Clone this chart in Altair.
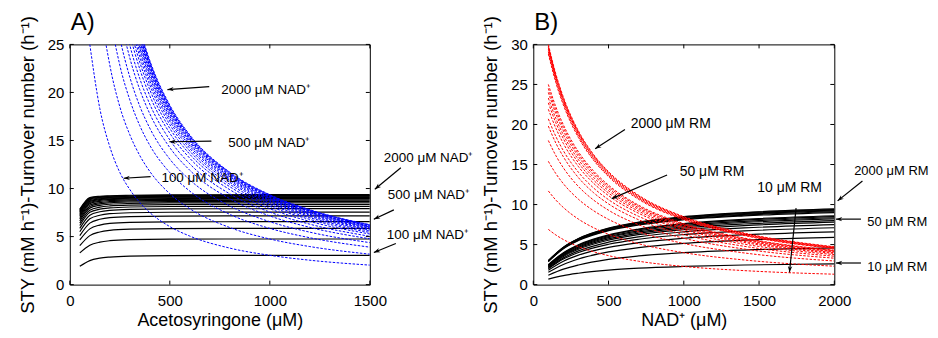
import math
import altair as alt
import pandas as pd

FONT = "Liberation Sans"

# ---------------- Panel A: STY / turnover vs acetosyringone ----------------
nad_levels_A = [100, 200, 300, 400, 500, 600, 700, 800, 900, 1000,
                1100, 1200, 1300, 1400, 1500, 1600, 1700, 1800, 1900, 2000]
x_sty_A = [50, 100, 150, 200, 300, 500, 1000, 1500]
sty_A = [
    [1.90, 2.50, 2.75, 2.87, 2.97, 3.02, 3.05, 3.05],
    [3.30, 4.10, 4.42, 4.57, 4.68, 4.73, 4.75, 4.75],
    [4.05, 5.10, 5.48, 5.65, 5.77, 5.83, 5.85, 5.85],
    [4.65, 5.80, 6.20, 6.37, 6.48, 6.53, 6.55, 6.55],
    [5.10, 6.40, 6.80, 6.98, 7.08, 7.13, 7.15, 7.15],
    [5.50, 6.85, 7.22, 7.38, 7.48, 7.53, 7.55, 7.55],
    [5.85, 7.22, 7.58, 7.73, 7.83, 7.88, 7.90, 7.90],
    [6.15, 7.52, 7.85, 7.98, 8.08, 8.13, 8.15, 8.15],
    [6.40, 7.75, 8.06, 8.19, 8.28, 8.33, 8.35, 8.35],
    [6.62, 7.96, 8.25, 8.37, 8.45, 8.50, 8.52, 8.52],
    [6.82, 8.14, 8.41, 8.52, 8.60, 8.64, 8.66, 8.66],
    [6.98, 8.29, 8.54, 8.64, 8.72, 8.76, 8.78, 8.78],
    [7.13, 8.43, 8.66, 8.76, 8.83, 8.87, 8.89, 8.89],
    [7.26, 8.55, 8.76, 8.85, 8.92, 8.96, 8.98, 8.98],
    [7.38, 8.66, 8.85, 8.93, 9.00, 9.04, 9.06, 9.06],
    [7.49, 8.75, 8.93, 9.01, 9.07, 9.11, 9.13, 9.13],
    [7.59, 8.84, 9.01, 9.08, 9.14, 9.18, 9.20, 9.20],
    [7.68, 8.92, 9.08, 9.14, 9.20, 9.24, 9.26, 9.26],
    [7.77, 8.99, 9.14, 9.20, 9.25, 9.29, 9.31, 9.31],
    [7.85, 9.06, 9.20, 9.25, 9.30, 9.34, 9.36, 9.36],
]
x_ton_A = [100, 150, 200, 250, 300, 350, 400, 500, 600, 800, 1000, 1200, 1500]
ton_A = [
    [25.0, 18.33, 14.35, 11.68, 9.90, 8.54, 7.50, 6.04, 5.05, 3.80, 3.05, 2.54, 2.03],
    [41.0, 29.47, 22.85, 18.52, 15.60, 13.43, 11.78, 9.46, 7.90, 5.94, 4.75, 3.96, 3.17],
    [51.0, 36.53, 28.25, 22.84, 19.23, 16.54, 14.50, 11.66, 9.73, 7.31, 5.85, 4.88, 3.90],
    [58.0, 41.33, 31.85, 25.72, 21.60, 18.57, 16.28, 13.06, 10.90, 8.19, 6.55, 5.46, 4.37],
    [64.0, 45.33, 34.90, 28.12, 23.60, 20.29, 17.78, 14.26, 11.90, 8.94, 7.15, 5.96, 4.77],
    [68.5, 48.13, 36.90, 29.72, 24.93, 21.43, 18.78, 15.06, 12.57, 9.44, 7.55, 6.29, 5.03],
    [72.2, 50.53, 38.65, 31.12, 26.10, 22.43, 19.65, 15.76, 13.15, 9.88, 7.90, 6.58, 5.27],
    [75.2, 52.33, 39.90, 32.12, 26.93, 23.14, 20.28, 16.26, 13.57, 10.19, 8.15, 6.79, 5.43],
    [77.5, 53.73, 40.95, 32.96, 27.60, 23.71, 20.78, 16.66, 13.90, 10.44, 8.35, 6.96, 5.57],
    [79.6, 55.00, 41.85, 33.64, 28.17, 24.20, 21.20, 17.00, 14.18, 10.65, 8.52, 7.10, 5.68],
    [81.4, 56.07, 42.60, 34.24, 28.67, 24.63, 21.58, 17.28, 14.42, 10.83, 8.66, 7.22, 5.77],
    [82.9, 56.93, 43.20, 34.72, 29.07, 24.97, 21.88, 17.52, 14.62, 10.98, 8.78, 7.32, 5.85],
    [84.3, 57.73, 43.80, 35.20, 29.43, 25.29, 22.15, 17.74, 14.80, 11.11, 8.89, 7.41, 5.93],
    [85.5, 58.40, 44.25, 35.56, 29.73, 25.54, 22.38, 17.92, 14.95, 11.23, 8.98, 7.48, 5.99],
    [86.6, 59.00, 44.65, 35.88, 30.00, 25.77, 22.58, 18.08, 15.08, 11.33, 9.06, 7.55, 6.04],
    [87.5, 59.53, 45.05, 36.16, 30.23, 25.97, 22.75, 18.22, 15.20, 11.41, 9.13, 7.61, 6.09],
    [88.4, 60.07, 45.40, 36.44, 30.47, 26.17, 22.93, 18.36, 15.32, 11.50, 9.20, 7.67, 6.13],
    [89.2, 60.53, 45.70, 36.68, 30.67, 26.34, 23.08, 18.48, 15.42, 11.58, 9.26, 7.72, 6.17],
    [89.9, 60.93, 46.00, 36.88, 30.83, 26.49, 23.20, 18.58, 15.50, 11.64, 9.31, 7.76, 6.21],
    [90.6, 61.33, 46.25, 37.08, 31.00, 26.63, 23.33, 18.68, 15.58, 11.70, 9.36, 7.80, 6.24],
]
ticks_x_A = [0, 500, 1000, 1500]
ticks_y_A = [0, 5, 10, 15, 20, 25]

ann_text_A = ["2000 μM NAD⁺", "500 μM NAD⁺", "100 μM NAD⁺",
              "2000 μM NAD⁺", "500 μM NAD⁺", "100 μM NAD⁺"]
ann_size_A = [13.5, 13.5, 13.5, 13.5, 13.5, 13.5]
ann_tx_A = [757, 792, 458, 1570, 1590, 1585]
ann_ty_A = [20.3, 14.7, 11.1, 13.2, 9.33, 5.19]
arr_x0_A = [697, 708, 404, 1655, 1620, 1630]
arr_y0_A = [20.6, 14.94, 11.24, 12.17, 7.78, 4.28]
arr_x1_A = [488, 498, 269, 1525, 1520, 1520]
arr_y1_A = [20.3, 14.87, 11.07, 9.92, 6.81, 3.35]

# ---------------- Panel B: STY / turnover vs NAD+ ----------------
x_sty_B = [100, 200, 300, 500, 700, 1000, 1400, 2000]
sty_B = [
    [0.69, 1.13, 1.42, 1.81, 2.05, 2.27, 2.45, 2.60],
    [1.17, 1.93, 2.45, 3.15, 3.58, 3.99, 4.32, 4.60],
    [1.54, 2.52, 3.20, 4.08, 4.62, 5.14, 5.55, 5.90],
    [1.80, 2.92, 3.68, 4.65, 5.24, 5.79, 6.23, 6.60],
    [1.98, 3.19, 4.01, 5.04, 5.67, 6.25, 6.71, 7.10],
    [2.07, 3.34, 4.21, 5.30, 5.97, 6.59, 7.08, 7.50],
    [2.19, 3.52, 4.42, 5.55, 6.24, 6.87, 7.37, 7.80],
    [2.27, 3.64, 4.56, 5.72, 6.42, 7.06, 7.57, 8.00],
    [2.33, 3.74, 4.68, 5.87, 6.58, 7.24, 7.76, 8.20],
    [2.40, 3.84, 4.80, 6.00, 6.72, 7.39, 7.91, 8.35],
    [2.45, 3.92, 4.90, 6.12, 6.85, 7.52, 8.05, 8.50],
    [2.50, 3.99, 4.98, 6.21, 6.94, 7.62, 8.15, 8.60],
    [2.88, 4.49, 5.51, 6.74, 7.45, 8.10, 8.59, 9.00],
    [2.91, 4.53, 5.57, 6.81, 7.53, 8.19, 8.69, 9.10],
    [2.94, 4.58, 5.63, 6.89, 7.62, 8.27, 8.78, 9.20],
    [2.96, 4.62, 5.68, 6.95, 7.69, 8.36, 8.87, 9.30],
    [2.98, 4.65, 5.72, 7.01, 7.75, 8.43, 8.95, 9.38],
    [3.00, 4.68, 5.76, 7.06, 7.81, 8.49, 9.01, 9.45],
]
x_ton_B = [100, 150, 200, 300, 400, 500, 700, 1000, 1400, 2000]
ton_B = [
    [6.9, 6.20, 5.63, 4.75, 4.11, 3.62, 2.92, 2.27, 1.75, 1.30],
    [11.7, 10.56, 9.63, 8.18, 7.11, 6.29, 5.11, 3.99, 3.08, 2.30],
    [15.4, 13.86, 12.60, 10.66, 9.24, 8.15, 6.60, 5.14, 3.96, 2.95],
    [18.0, 16.11, 14.58, 12.25, 10.57, 9.29, 7.48, 5.79, 4.45, 3.30],
    [19.8, 17.67, 15.96, 13.36, 11.49, 10.08, 8.10, 6.25, 4.79, 3.55],
    [20.7, 18.50, 16.72, 14.03, 12.08, 10.61, 8.53, 6.59, 5.06, 3.75],
    [21.9, 19.53, 17.62, 14.74, 12.67, 11.11, 8.91, 6.87, 5.27, 3.90],
    [22.7, 20.21, 18.22, 15.21, 13.06, 11.44, 9.17, 7.06, 5.41, 4.00],
    [23.3, 20.74, 18.70, 15.61, 13.40, 11.73, 9.40, 7.24, 5.54, 4.10],
    [24.0, 21.33, 19.20, 16.00, 13.72, 12.00, 9.60, 7.39, 5.65, 4.18],
    [24.5, 21.77, 19.59, 16.32, 13.98, 12.23, 9.78, 7.52, 5.75, 4.25],
    [25.0, 22.19, 19.95, 16.59, 14.20, 12.42, 9.92, 7.62, 5.82, 4.30],
    [28.8, 25.22, 22.43, 18.36, 15.55, 13.48, 10.65, 8.10, 6.14, 4.50],
    [29.1, 25.48, 22.67, 18.56, 15.71, 13.63, 10.76, 8.19, 6.20, 4.55],
    [29.4, 25.75, 22.90, 18.76, 15.88, 13.77, 10.88, 8.27, 6.27, 4.60],
    [29.6, 25.94, 23.08, 18.92, 16.02, 13.90, 10.99, 8.36, 6.34, 4.65],
    [29.8, 26.12, 23.25, 19.06, 16.15, 14.01, 11.08, 8.43, 6.39, 4.69],
    [30.0, 26.30, 23.41, 19.19, 16.26, 14.11, 11.16, 8.49, 6.44, 4.73],
]
ticks_x_B = [0, 500, 1000, 1500, 2000]
ticks_y_B = [0, 5, 10, 15, 20, 25, 30]

ann_text_B = ["2000 μM RM", "50 μM RM", "10 μM RM",
              "2000 μM RM", "50 μM RM", "10 μM RM"]
ann_size_B = [14, 14, 14, 13, 13, 13]
ann_tx_B = [647, 973, 1488, 2132, 2219, 2219]
ann_ty_B = [20.08, 14.07, 12.03, 14.19, 7.88, 2.24]
arr_x0_B = [609, 889, 1746, 2187, 2177, 2177]
arr_y0_B = [19.38, 13.7, 9.55, 12.95, 8.18, 2.70]
arr_x1_B = [411, 521, 1702, 2022, 2011, 2011]
arr_y1_B = [16.97, 10.74, 1.53, 10.46, 8.18, 2.70]

Y_TITLE = "STY (mM h⁻¹)-Turnover number (h⁻¹)"
W_A, W_B, H = 301, 302, 241
ARROW_PATH = "M0,0L0.75,2.1L0,1.45L-0.75,2.1Z"


def long_df(xs, rows):
    recs = []
    for i, row in enumerate(rows):
        for x, y in zip(xs, row):
            recs.append({"curve": i, "x": x, "y": y})
    return pd.DataFrame(recs)


def panel(sty_x, sty, ton_x, ton, color, xdom, ydom, xticks, yticks, xtitle,
          width, label, ann_text, ann_size, ann_tx, ann_ty, ax0, ay0, ax1, ay1):
    xs = alt.Scale(domain=xdom, nice=False, zero=False)
    ys = alt.Scale(domain=ydom, nice=False, zero=False)
    common = dict(ticks=False, domain=False, grid=False, labelFont=FONT,
                  labelFontSize=15, labelColor="black", titleFont=FONT,
                  titleFontWeight="normal", titleColor="black",
                  labelFlush=False, labelOverlap=False, format="d")
    xax = alt.Axis(values=xticks, title=xtitle, labelPadding=9, titlePadding=3,
                   titleFontSize=18, **common)
    yax = alt.Axis(values=yticks, title=Y_TITLE, labelPadding=6, titlePadding=10,
                   titleFontSize=18.5, **common)

    def X(f):
        return alt.X(f, type="quantitative", scale=xs, axis=xax)

    def Y(f):
        return alt.Y(f, type="quantitative", scale=ys, axis=yax)

    black = alt.Chart(long_df(sty_x, sty)).mark_line(
        color="black", strokeWidth=1.2, clip=True, interpolate="monotone"
    ).encode(x=X("x"), y=Y("y"), detail="curve:N")

    dashed = alt.Chart(long_df(ton_x, ton)).mark_line(
        color=color, strokeWidth=1.0, strokeDash=[2.5, 1.5], clip=True,
        interpolate="monotone"
    ).encode(x=X("x"), y=Y("y"), detail="curve:N")

    tx = pd.DataFrame({"t": xticks})
    ty = pd.DataFrame({"t": yticks})
    tick_bot = alt.Chart(tx).mark_rule(color="black", strokeWidth=1).encode(
        x=X("t"), y=alt.value(H), y2=alt.value(H - 4))
    tick_top = alt.Chart(tx).mark_rule(color="black", strokeWidth=1).encode(
        x=X("t"), y=alt.value(0), y2=alt.value(4))
    tick_left = alt.Chart(ty).mark_rule(color="black", strokeWidth=1).encode(
        y=Y("t"), x=alt.value(0), x2=alt.value(4))
    tick_right = alt.Chart(ty).mark_rule(color="black", strokeWidth=1).encode(
        y=Y("t"), x=alt.value(width), x2=alt.value(width - 4))

    # arrow head angles (screen space)
    sx = width / (xdom[1] - xdom[0])
    sy = H / (ydom[1] - ydom[0])
    angles = []
    for x0, y0, x1, y1 in zip(ax0, ay0, ax1, ay1):
        dx = (x1 - x0) * sx
        dy = -(y1 - y0) * sy
        angles.append(math.degrees(math.atan2(dx, -dy)) % 360)
    arr = pd.DataFrame({"x0": ax0, "y0": ay0, "x1": ax1, "y1": ay1, "ang": angles})
    shafts = alt.Chart(arr).mark_rule(color="black", strokeWidth=1.2).encode(
        x=X("x0"), y=Y("y0"), x2="x1", y2="y1")
    heads = alt.Chart(arr).mark_point(
        shape=ARROW_PATH, filled=True, color="black", opacity=1, size=36
    ).encode(x=X("x1"), y=Y("y1"), angle=alt.Angle("ang:Q", scale=None))

    txt = pd.DataFrame({"t": ann_text, "s": ann_size, "x": ann_tx, "y": ann_ty})
    texts = alt.Chart(txt).mark_text(
        font=FONT, align="left", baseline="middle", color="black"
    ).encode(x=X("x"), y=Y("y"), text="t:N",
             size=alt.Size("s:Q", scale=None, legend=None))

    lab = pd.DataFrame({"t": [label]})
    lab_mark = alt.Chart(lab).mark_text(
        font=FONT, fontSize=24, align="left", baseline="bottom", color="black"
    ).encode(x=alt.value(1), y=alt.value(-9), text="t:N")

    return alt.layer(black, dashed, tick_bot, tick_top, tick_left, tick_right,
                     shafts, heads, texts, lab_mark).properties(width=width, height=H)


pA = panel(x_sty_A, sty_A, x_ton_A, ton_A, "#0000ff", [0, 1500], [0, 25],
           ticks_x_A, ticks_y_A, "Acetosyringone (μM)", W_A, "A)",
           ann_text_A, ann_size_A, ann_tx_A, ann_ty_A,
           arr_x0_A, arr_y0_A, arr_x1_A, arr_y1_A)
pB = panel(x_sty_B, sty_B, x_ton_B, ton_B, "#ff0000", [0, 2000], [0, 30],
           ticks_x_B, ticks_y_B, "NAD⁺ (μM)", W_B, "B)",
           ann_text_B, ann_size_B, ann_tx_B, ann_ty_B,
           arr_x0_B, arr_y0_B, arr_x1_B, arr_y1_B)

chart = alt.hconcat(pA, pB, spacing=164, bounds="flush").properties(
    padding={"left": 9, "top": 2, "right": 0, "bottom": 0}
).configure_view(stroke="black", strokeWidth=1)

chart.save("out.html", embed_options={"renderer": "svg", "actions": False})
